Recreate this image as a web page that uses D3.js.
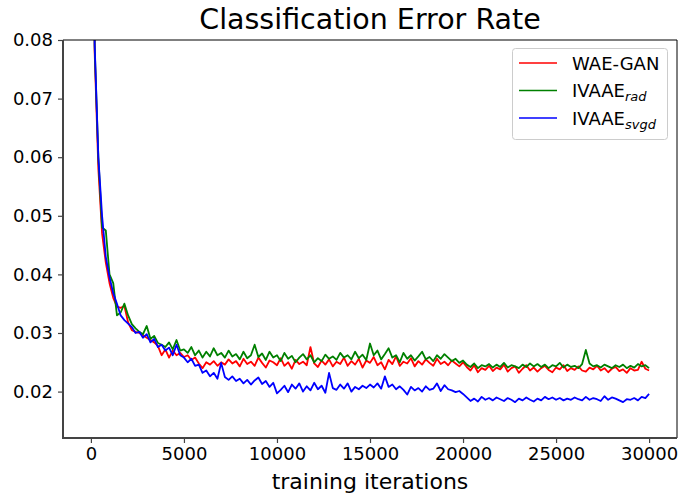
<!DOCTYPE html>
<html>
<head>
<meta charset="utf-8">
<script src="https://cdn.jsdelivr.net/npm/d3@7"></script>
<style>
  body { margin: 0; background: #fff; }
  text { font-family: "DejaVu Sans", sans-serif; }
</style>
</head>
<body>
<div id="chart"></div>
<script>
// iterations 0..30000, every 200
const iterations = d3.range(0, 30001, 200);

const wae_gan = [
  0.6, 0.078, 0.058, 0.047, 0.042, 0.0385, 0.036, 0.0345, 0.0343, 0.0346,
  0.0318, 0.0305, 0.0302, 0.0300, 0.0296, 0.0292, 0.0288, 0.0284, 0.0278, 0.0262,
  0.0272, 0.0258, 0.0270, 0.0262, 0.0266, 0.0259, 0.0262, 0.0254, 0.0258, 0.0248,
  0.0240, 0.0250, 0.0246, 0.0252, 0.0244, 0.0250,
  0.0246, 0.0255, 0.0248, 0.0252, 0.0243, 0.0256, 0.0247, 0.0251, 0.0244, 0.0258,
  0.0249, 0.0241, 0.0253, 0.0250, 0.0245, 0.0257, 0.0244, 0.0250, 0.0239, 0.0254,
  0.0247, 0.0251, 0.0245, 0.0276, 0.0248, 0.0242, 0.0253, 0.0246, 0.0255, 0.0243,
  0.0251, 0.0247, 0.0258, 0.0244, 0.0252, 0.0246, 0.0256, 0.0241, 0.0253, 0.0249,
  0.0259, 0.0245, 0.0250, 0.0238, 0.0254, 0.0247, 0.0260, 0.0244, 0.0251, 0.0248,
  0.0257, 0.0243, 0.0252, 0.0246, 0.0255, 0.0249, 0.0244, 0.0256, 0.0247, 0.0251,
  0.0245, 0.0253, 0.0248, 0.0243, 0.0250,
  0.0242, 0.0236, 0.0245, 0.0233, 0.0240, 0.0237, 0.0244, 0.0235, 0.0241, 0.0238,
  0.0246, 0.0234, 0.0240, 0.0243, 0.0232, 0.0239, 0.0245, 0.0236, 0.0241, 0.0234,
  0.0240, 0.0244, 0.0237, 0.0233, 0.0241, 0.0238, 0.0245, 0.0235, 0.0240, 0.0237,
  0.0243, 0.0236, 0.0234, 0.0241, 0.0238, 0.0244, 0.0236, 0.0240, 0.0233, 0.0239,
  0.0242, 0.0235, 0.0238, 0.0232, 0.0240, 0.0236, 0.0237, 0.0251, 0.0239, 0.0236
];

const ivaae_rad = [
  0.6, 0.079, 0.060, 0.048, 0.0475, 0.040, 0.0385, 0.033, 0.0335, 0.0350,
  0.0330, 0.0315, 0.0308, 0.0302, 0.0298, 0.0312, 0.0290, 0.0295, 0.0283, 0.0280,
  0.0276, 0.0284, 0.0272, 0.0288, 0.0270, 0.0272, 0.0266, 0.0276, 0.0262, 0.0270,
  0.0258, 0.0268, 0.0260, 0.0274, 0.0262, 0.0266,
  0.0258, 0.0270, 0.0260, 0.0264, 0.0255, 0.0268, 0.0257, 0.0262, 0.0280, 0.0259,
  0.0265, 0.0254, 0.0268, 0.0258, 0.0262, 0.0252, 0.0266, 0.0256, 0.0261, 0.0250,
  0.0258, 0.0264, 0.0255, 0.0262, 0.0250, 0.0257, 0.0252, 0.0263, 0.0256, 0.0260,
  0.0254, 0.0266, 0.0258, 0.0262, 0.0255, 0.0268, 0.0257, 0.0263, 0.0254, 0.0282,
  0.0262, 0.0270, 0.0255, 0.0264, 0.0274, 0.0258, 0.0262, 0.0250, 0.0266, 0.0256,
  0.0262, 0.0253, 0.0260, 0.0268, 0.0255, 0.0259, 0.0252, 0.0262, 0.0256, 0.0264,
  0.0258, 0.0252, 0.0256, 0.0249, 0.0253,
  0.0246, 0.0242, 0.0248, 0.0240, 0.0245, 0.0243, 0.0247, 0.0241, 0.0246, 0.0242,
  0.0249, 0.0241, 0.0245, 0.0243, 0.0240, 0.0246, 0.0242, 0.0248, 0.0243, 0.0247,
  0.0242, 0.0246, 0.0240, 0.0245, 0.0243, 0.0249, 0.0241, 0.0246, 0.0242, 0.0244,
  0.0240, 0.0247, 0.0271, 0.0248, 0.0243, 0.0245, 0.0241, 0.0246, 0.0243, 0.0240,
  0.0245, 0.0242, 0.0246, 0.0240, 0.0244, 0.0241, 0.0247, 0.0243, 0.0245, 0.0240
];

const ivaae_svgd = [
  0.6, 0.0795, 0.060, 0.050, 0.043, 0.0395, 0.0368, 0.0350, 0.0330, 0.0322,
  0.0316, 0.0310, 0.0300, 0.0302, 0.0292, 0.0298, 0.0284, 0.0290, 0.0276, 0.0280,
  0.0270, 0.0275, 0.0262, 0.0280, 0.0262, 0.0258, 0.0250, 0.0256, 0.0244, 0.0246,
  0.0232, 0.0236, 0.0226, 0.0232, 0.0222, 0.0249,
  0.0225, 0.0220, 0.0226, 0.0218, 0.0222, 0.0214, 0.0220, 0.0212, 0.0219, 0.0224,
  0.0213, 0.0218, 0.0208, 0.0215, 0.0197, 0.0203, 0.0210, 0.0199, 0.0212, 0.0205,
  0.0214, 0.0200, 0.0209, 0.0202, 0.0215, 0.0204, 0.0210, 0.0198, 0.0232, 0.0206,
  0.0203, 0.0212, 0.0205, 0.0214, 0.0200, 0.0208, 0.0204, 0.0210, 0.0206, 0.0212,
  0.0207, 0.0214, 0.0205, 0.0226, 0.0208, 0.0212, 0.0204, 0.0209, 0.0203, 0.0195,
  0.0208, 0.0202, 0.0206, 0.0200, 0.0209, 0.0203, 0.0205, 0.0214, 0.0201, 0.0211,
  0.0204, 0.0202, 0.0199, 0.0201, 0.0196,
  0.0190, 0.0184, 0.0188, 0.0183, 0.0191, 0.0186, 0.0189, 0.0185, 0.0190, 0.0187,
  0.0184, 0.0189, 0.0186, 0.0182, 0.0188, 0.0185, 0.0190, 0.0186, 0.0183, 0.0188,
  0.0185, 0.0191, 0.0187, 0.0190, 0.0186, 0.0189, 0.0185, 0.0188, 0.0186, 0.0190,
  0.0187, 0.0185, 0.0191, 0.0186, 0.0189, 0.0187, 0.0184, 0.0192, 0.0186, 0.0190,
  0.0188, 0.0185, 0.0182, 0.0187, 0.0186, 0.0189, 0.0185, 0.0191, 0.0189, 0.0196
];

const xTicks = [0, 5000, 10000, 15000, 20000, 25000, 30000];
const yTicks = [0.02, 0.03, 0.04, 0.05, 0.06, 0.07, 0.08];

const series = [
  { name: 'WAE-GAN', sub: '', values: wae_gan, color: '#ff0000' },
  { name: 'IVAAE', sub: 'rad', values: ivaae_rad, color: '#008000' },
  { name: 'IVAAE', sub: 'svgd', values: ivaae_svgd, color: '#0000ff' }
];

const width = 680;
const height = 495;
const margin = { top: 40, right: 3, bottom: 57, left: 63 };
const w = width - margin.left - margin.right;
const h = height - margin.top - margin.bottom;

const svg = d3.select('#chart').append('svg')
  .attr('width', width)
  .attr('height', height);

const g = svg.append('g')
  .attr('transform', 'translate(' + margin.left + ',' + margin.top + ')');

const x = d3.scaleLinear().domain([-1500, 31500]).range([0, w]);
const y = d3.scaleLinear().domain([0.01208, 0.08]).range([h, 0]);

// clip lines to the plot area
svg.append('defs').append('clipPath').attr('id', 'clip')
  .append('rect').attr('width', w).attr('height', h);

const line = d3.line()
  .x((d, i) => x(iterations[i]))
  .y(d => y(d));

const lines = g.append('g').attr('clip-path', 'url(#clip)');
series.forEach(s => {
  lines.append('path')
    .datum(s.values)
    .attr('d', line)
    .style('fill', 'none')
    .style('stroke', s.color)
    .style('stroke-width', 1.8)
    .style('stroke-linejoin', 'round');
});

// axes
const xAxis = g.append('g')
  .attr('transform', 'translate(0,' + h + ')')
  .call(d3.axisBottom(x).tickValues(xTicks).tickFormat(d3.format('d')).tickSize(5).tickPadding(4));
const yAxis = g.append('g')
  .call(d3.axisLeft(y).tickValues(yTicks).tickFormat(d3.format('.2f')).tickSize(5).tickPadding(5));

[xAxis, yAxis].forEach(ax => {
  ax.select('.domain').remove();
  ax.selectAll('line').attr('stroke', '#444').attr('stroke-width', 1.2);
  ax.selectAll('text')
    .attr('fill', '#000')
    .style('font-size', '18px')
    .style('font-family', '"DejaVu Sans", sans-serif');
});

// spines: left/bottom dark gray, top/right thin black
g.append('line').attr('x1', 0).attr('x2', w).attr('y1', 0).attr('y2', 0)
  .attr('stroke', '#000').attr('stroke-width', 1);
g.append('line').attr('x1', w).attr('x2', w).attr('y1', 0).attr('y2', h)
  .attr('stroke', '#000').attr('stroke-width', 1);
g.append('line').attr('x1', 0).attr('x2', 0).attr('y1', 0).attr('y2', h + 1)
  .attr('stroke', '#444').attr('stroke-width', 2);
g.append('line').attr('x1', -1).attr('x2', w).attr('y1', h).attr('y2', h)
  .attr('stroke', '#444').attr('stroke-width', 2);

// title and x label
svg.append('text')
  .attr('x', margin.left + w / 2)
  .attr('y', 29)
  .attr('text-anchor', 'middle')
  .style('font-size', '28.5px')
  .text('Classification Error Rate');

svg.append('text')
  .attr('x', margin.left + w / 2)
  .attr('y', 489)
  .attr('text-anchor', 'middle')
  .style('font-size', '22px')
  .text('training iterations');

// legend
const legend = svg.append('g').attr('transform', 'translate(512,48)');
legend.append('rect')
  .attr('x', 0.5).attr('y', 0.5)
  .attr('width', 155).attr('height', 91)
  .attr('rx', 3)
  .style('fill', '#fff')
  .style('fill-opacity', 0.8)
  .style('stroke', '#ccc')
  .style('stroke-width', 1);

series.forEach((s, i) => {
  const yy = 15 + i * 27.5;
  legend.append('line')
    .attr('x1', 7).attr('x2', 45)
    .attr('y1', yy).attr('y2', yy)
    .style('stroke', s.color)
    .style('stroke-width', 1.5);
  const t = legend.append('text')
    .attr('x', 60)
    .attr('y', yy + 6.5)
    .style('font-size', '18px')
    .text(s.name);
  if (s.sub) {
    t.append('tspan')
      .attr('dy', 4)
      .style('font-size', '13px')
      .style('font-style', 'italic')
      .text(s.sub);
  }
});
</script>
</body>
</html>
